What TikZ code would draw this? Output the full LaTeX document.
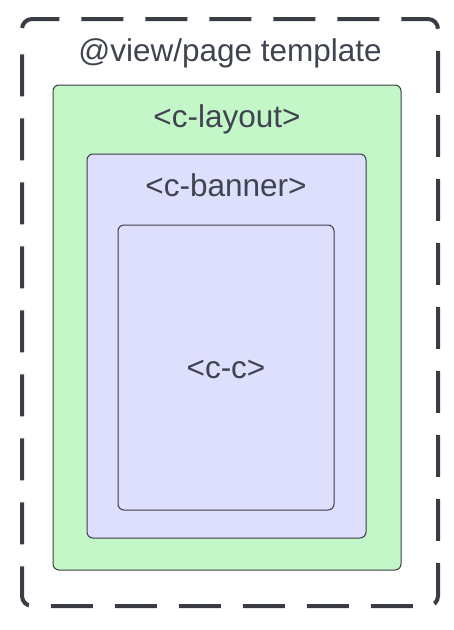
\documentclass[tikz,border=0pt]{standalone}
\usepackage{fontspec}
\setmainfont{Liberation Sans}

\definecolor{edgegray}{HTML}{3A3D45}
\definecolor{textgray}{HTML}{3F4450}
\definecolor{layoutgreen}{HTML}{C4F7C8}
\definecolor{bannerblue}{HTML}{DEDEFD}

\tikzset{
  box/.style={draw=edgegray, line width=1pt, rounded corners=6pt},
  tag/.style={text=textgray, font=\fontsize{31.5}{33}\selectfont, anchor=base, inner sep=0pt}
}

\begin{document}
\begin{tikzpicture}[x=1pt, y=-1pt]
      \useasboundingbox (0,0) rectangle (454,630);

      \draw [edgegray, line width=4pt, rounded corners=10pt, dash pattern=on 42pt off 22pt, dash phase=-10pt]
        (22,48) -- (22,19) -- (438,19) -- (438,606) -- (22,606) -- cycle;

      \draw [box, fill=layoutgreen] (53,85) rectangle (401,570);
      \draw [box, fill=bannerblue] (87,154) rectangle (366,538);
      \draw [box, fill=bannerblue] (118,225) rectangle (334,510);

      \node (page) [tag] at (230,61) {@view/page template};
      \node (layout) [tag] at (227,127) {<c-layout>};
      \node (banner) [tag] at (226,196) {<c-banner>};
      \node (cc) [tag] at (226,378) {<c-c>};

    \end{tikzpicture}
\end{document}
